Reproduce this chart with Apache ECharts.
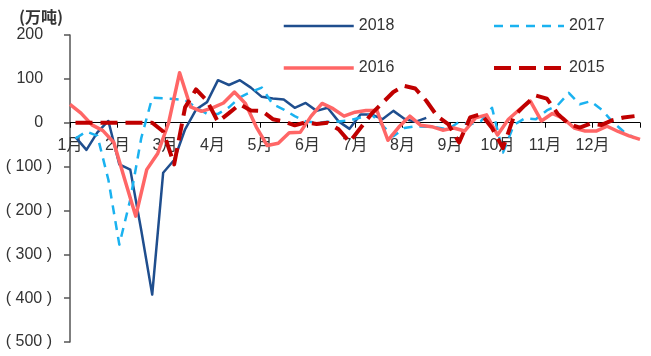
<!DOCTYPE html>
<html>
<head>
<meta charset="utf-8">
<script src="https://cdn.jsdelivr.net/npm/echarts@6/dist/echarts.min.js"></script>
<style>
  html, body { margin: 0; padding: 0; background: #fff; }
  #chart { width: 651px; height: 356px; }
</style>
</head>
<body>
<div id="chart"></div>
<script>
// Weekly change, in 10k tonnes (万吨), one array per year
const MONTHS = ['1月', '2月', '3月', '4月', '5月', '6月', '7月', '8月', '9月', '10月', '11月', '12月'];
const Y_TICKS = [-500, -400, -300, -200, -100, 0, 100, 200];

const v2018 = [-33, -62, -22, 4, -95, -107, -245, -392, -114, -85, -15, 30, 47, 97, 86, 97, 80, 59,
  55, 53, 34, 45, 27, 34, 3, -14, 19, 19, 8, 27, 9, 2, 11];
const v2017 = [-36, -20, -30, -130, -278, -175, -35, 57, 56, 54, 52, 35, 20, 20, 35, 58, 70, 80,
  42, 30, 15, 3, 0, 2, 3, 5, 12, 19, -6, -31, -12, -8, -9, -11, -15, 2, -4, 4, 34, -68, -5, 10,
  8, 28, 40, 68, 42, 49, 30, 2, -20, -35];
const v2016 = [42, 22, -5, -18, -45, -130, -213, -107, -70, 0, 114, 36, 26, 34, 45, 70, 44, -10,
  -52, -47, -23, -22, 15, 44, 32, 15, 24, 28, 28, -40, -10, 15, -6, -9, -17, -12, -19, 11, 18,
  -28, 8, 30, 49, 4, 21, 10, -12, -19, -19, -8, -20, -30, -38];
const v2015 = [0, 0, 0, 0, 0, 0, 0, 0, -20, -95, 35, 76, 50, 2, 22, 42, 28, 27, 8, 3, -6, 1, -3,
  0, -15, -44, -12, 20, 45, 70, 84, 78, 50, 15, -3, -45, 12, 20, -12, -58, 15, 40, 62, 55, 20,
  -3, -11, -2, -5, 6, 12, 15];

// week offset of each year's first report within the year
const START_WEEK = { '2018': 0.5, '2017': 0.5, '2016': 0, '2015': 0.5 };
const WEEKS_PER_YEAR = 52;

function toPoints(values, start) {
  // x measured in months so that month ticks fall on whole numbers
  return values.map((v, i) => [(start + i) * 12 / WEEKS_PER_YEAR, v]);
}

const FONT = "'Liberation Sans', Arial, 'Noto Sans CJK SC', sans-serif";

const W = 651, H = 356;
const GRID = { left: 70, right: 11, top: 35, bottom: 14 };
const Y_MIN = Y_TICKS[0], Y_MAX = Y_TICKS[Y_TICKS.length - 1];
// month axis sits on the zero line: shift it up from the grid bottom by 0's share of the height
const plotH = H - GRID.top - GRID.bottom;
const zeroShift = plotH * (0 - Y_MIN) / (Y_MAX - Y_MIN);

const chart = echarts.init(document.getElementById('chart'), null, { renderer: 'canvas' });

const seriesDefs = [
  { name: '2018', data: v2018, color: '#1F4E8E', width: 2.5, type: 'solid' },
  { name: '2017', data: v2017, color: '#1AB2F0', width: 2.5, type: [9, 7] },
  { name: '2016', data: v2016, color: '#FF6666', width: 3.5, type: 'solid' },
  { name: '2015', data: v2015, color: '#C00000', width: 4, type: [17, 8] }
];

const legendCommon = {
  orient: 'vertical',
  itemWidth: 70,
  itemHeight: 14,
  itemGap: 26,
  textStyle: { fontSize: 16, color: '#333', fontFamily: FONT },
  // plain line keys, no marker dot
  itemStyle: { opacity: 0 },
  lineStyle: { width: 'inherit', type: 'inherit', opacity: 1 }
};

chart.setOption({
  animation: false,
  graphic: [{
    type: 'text',
    left: 19,
    top: 9,
    style: { text: '(万吨)', font: "bold 16px 'Noto Sans CJK SC', sans-serif", fill: '#333' }
  }],
  legend: [
    Object.assign({ left: 277, top: 13, data: ['2018', '2016'] }, legendCommon),
    Object.assign({ left: 487, top: 13, data: ['2017', '2015'] }, legendCommon)
  ],
  grid: Object.assign({ containLabel: false, outerBoundsMode: 'none' }, GRID),
  xAxis: {
    type: 'value',
    min: 0,
    max: 12,
    interval: 1,
    position: 'bottom',
    offset: -zeroShift,
    axisLine: { onZero: false, lineStyle: { color: '#000', width: 1 } },
    axisTick: { show: true, length: 5, lineStyle: { color: '#000' } },
    axisLabel: {
      margin: 15,
      fontSize: 16,
      color: '#333',
      fontFamily: FONT,
      showMaxLabel: true,
      formatter: v => (v >= 0 && v < MONTHS.length) ? MONTHS[v] : ''
    },
    splitLine: { show: false }
  },
  yAxis: {
    type: 'value',
    min: Y_MIN,
    max: Y_MAX,
    interval: 100,
    axisLine: { show: true, onZero: false, lineStyle: { color: '#555', width: 1.5 } },
    axisTick: { show: true, length: 6, lineStyle: { color: '#555', width: 1.5 } },
    axisLabel: {
      margin: 18,
      fontSize: 16,
      color: '#333',
      fontFamily: FONT,
      formatter: v => v < 0 ? '( ' + (-v) + ' )' : v + '  '
    },
    splitLine: { show: false }
  },
  series: seriesDefs.map(s => ({
    name: s.name,
    type: 'line',
    data: toPoints(s.data, START_WEEK[s.name]),
    symbol: 'none',
    smooth: false,
    lineStyle: { color: s.color, width: s.width, type: s.type, cap: 'butt', join: 'round' },
    itemStyle: { color: s.color }
  }))
});
</script>
</body>
</html>
